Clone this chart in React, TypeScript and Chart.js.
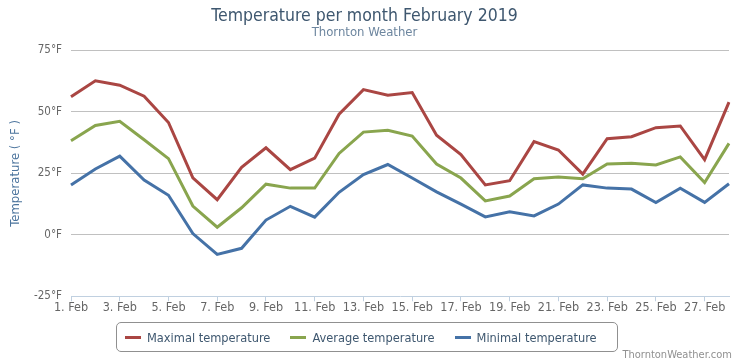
import React, { useEffect, useRef } from "react";
import { Chart, registerables } from "chart.js";

Chart.register(...registerables);

const categories: string[] = [
  "1. Feb", "2. Feb", "3. Feb", "4. Feb", "5. Feb", "6. Feb", "7. Feb",
  "8. Feb", "9. Feb", "10. Feb", "11. Feb", "12. Feb", "13. Feb", "14. Feb",
  "15. Feb", "16. Feb", "17. Feb", "18. Feb", "19. Feb", "20. Feb", "21. Feb",
  "22. Feb", "23. Feb", "24. Feb", "25. Feb", "26. Feb", "27. Feb", "28. Feb",
];

const maxTemp: number[] = [
  56.2, 62.7, 60.9, 56.4, 45.7, 23.2, 14.3, 27.5, 35.4, 26.5, 31.2, 49.1, 59.1, 56.8,
  57.9, 40.5, 32.7, 20.3, 22.0, 37.9, 34.5, 24.7, 39.1, 39.9, 43.6, 44.3, 30.6, 54.0,
];
const avgTemp: number[] = [
  38.3, 44.5, 46.2, 38.7, 31.0, 11.7, 3.1, 11.0, 20.6, 19.0, 19.0, 33.1, 41.8, 42.5,
  40.2, 28.8, 23.1, 13.8, 15.8, 22.8, 23.5, 22.8, 28.8, 29.1, 28.4, 31.7, 21.3, 37.2,
];
const minTemp: number[] = [
  20.3, 26.8, 32.0, 22.3, 16.1, 0.5, -8.0, -5.5, 6.0, 11.6, 7.2, 17.3, 24.5, 28.6,
  23.1, 17.5, 12.5, 7.3, 9.4, 7.7, 12.5, 20.3, 19.0, 18.6, 13.1, 19.0, 13.2, 20.8,
];

const seriesNames: string[] = ["Maximal temperature", "Average temperature", "Minimal temperature"];
const seriesColors: string[] = ["#AA4643", "#89A54E", "#4572A7"];

const yTicks: number[] = [-25, 0, 25, 50, 75];

const titleText = "Temperature per month February 2019";
const subtitleText = "Thornton Weather";
const yAxisTitle = "Temperature ( °F )";
const creditsText = "ThorntonWeather.com";

const FONT = "'DejaVu Sans Condensed', 'Liberation Sans Narrow', 'DejaVu Sans', sans-serif";

export default function App() {
  const canvasRef = useRef<HTMLCanvasElement | null>(null);

  useEffect(() => {
    const canvas = canvasRef.current;
    if (!canvas) return;
    const values = [maxTemp, avgTemp, minTemp];
    const chart = new Chart(canvas, {
      type: "line",
      data: {
        labels: categories,
        datasets: values.map((v, i) => ({
          label: seriesNames[i],
          data: v,
          borderColor: seriesColors[i],
          backgroundColor: seriesColors[i],
          borderWidth: 3,
          pointRadius: 0,
          pointHoverRadius: 0,
          tension: 0,
          fill: false,
        })),
      },
      options: {
        animation: false,
        responsive: false,
        devicePixelRatio: 1,
        layout: { padding: { left: 0, right: 8, top: 0, bottom: 47 } },
        plugins: {
          legend: { display: false },
          tooltip: { enabled: false },
          title: {
            display: true,
            text: titleText,
            color: "#3E576F",
            font: { family: FONT, size: 17.5, weight: "normal", lineHeight: 1 },
            padding: { top: 8, bottom: 0 },
          },
          subtitle: {
            display: true,
            text: subtitleText,
            color: "#6D869F",
            font: { family: FONT, size: 13, weight: "normal", lineHeight: 1 },
            padding: { top: 1, bottom: 11 },
          },
        },
        scales: {
          x: {
            type: "category",
            offset: false,
            grid: {
              display: true,
              drawOnChartArea: false,
              drawTicks: true,
              tickLength: 5,
              color: "#C0D0E0",
            },
            border: { display: true, color: "#C0D0E0", width: 1 },
            ticks: {
              autoSkip: false,
              maxRotation: 0,
              minRotation: 0,
              padding: 0,
              color: "#666666",
              font: { family: FONT, size: 12.5, lineHeight: 1.1 },
              callback: (_v: any, idx: number) => (idx % 2 === 0 ? categories[idx] : null),
            },
          },
          y: {
            min: yTicks[0],
            max: yTicks[yTicks.length - 1],
            afterBuildTicks: (scale: any) => {
              scale.ticks = yTicks.map((v) => ({ value: v }));
            },
            afterFit: (scale: any) => {
              scale.width = 71;
            },
            grid: {
              drawTicks: false,
              color: (ctx: any) => (ctx.tick && ctx.tick.value === yTicks[0] ? "rgba(0,0,0,0)" : "#C0C0C0"),
              lineWidth: 1,
            },
            border: { display: false },
            ticks: {
              padding: 9,
              color: "#666666",
              font: { family: FONT, size: 11.5 },
              callback: (v: any) => `${v}°F`,
            },
            title: {
              display: true,
              text: yAxisTitle,
              color: "#4d759e",
              font: { family: FONT, size: 13, weight: "normal" },
              padding: { top: 8, bottom: 0 },
            },
          },
        },
      },
    });
    return () => chart.destroy();
  }, []);

  return (
    <div style={{ position: "absolute", left: 0, top: 0, width: 737, height: 362, background: "#fff", fontFamily: FONT }}>
      <canvas ref={canvasRef} width={737} height={362} style={{ display: "block" }} />
      <div
        style={{
          position: "absolute",
          left: 116,
          top: 322,
          width: 502,
          height: 30,
          boxSizing: "border-box",
          border: "1px solid #909090",
          borderRadius: 5,
          display: "flex",
          alignItems: "center",
          paddingLeft: 8,
          fontSize: 12.7,
          color: "#3E576F",
        }}
      >
        {seriesNames.map((name, i) => (
          <div key={name} style={{ display: "flex", alignItems: "center", marginRight: 20 }}>
            <span style={{ display: "inline-block", width: 16, height: 3, background: seriesColors[i], marginRight: 6 }} />
            <span style={{ whiteSpace: "nowrap" }}>{name}</span>
          </div>
        ))}
      </div>
      <div
        style={{
          position: "absolute",
          right: 5,
          top: 348,
          fontSize: 11,
          lineHeight: "13px",
          color: "#909090",
        }}
      >
        {creditsText}
      </div>
    </div>
  );
}
